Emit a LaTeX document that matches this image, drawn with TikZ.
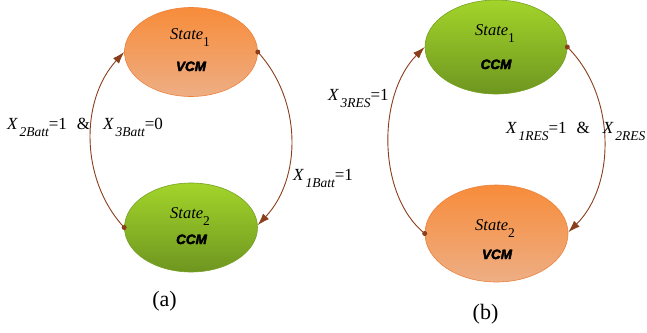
\documentclass[tikz,border=0pt]{standalone}
\usepackage{fontspec}
\setmainfont{Liberation Serif}
\newfontfamily\ccmfont[BoldItalicFeatures={FakeBold=3}]{Liberation Sans}
\usetikzlibrary{shapes.geometric,arrows.meta}
\definecolor{orT}{RGB}{247,140,58}
\definecolor{orL}{RGB}{238,174,132}
\definecolor{orB}{RGB}{236,130,62}
\definecolor{grT}{RGB}{163,212,42}
\definecolor{grL}{RGB}{110,150,32}
\definecolor{grB}{RGB}{118,160,36}
\definecolor{arr}{RGB}{138,62,28}
\newcommand\stname[1]{State\raisebox{-7pt}{\upshape\fontsize{13.5}{13.5}\selectfont #1}}
\newcommand\xvar[1]{\textit{X}\kern1.5pt\raisebox{-7pt}{\itshape\fontsize{13.5}{13.5}\selectfont #1}}
\tikzset{
  stnode/.style={ellipse, inner sep=0pt, line width=0.6pt},
  orst/.style={stnode, draw=orB, top color=orT, bottom color=orL},
  grst/.style={stnode, draw=grB, top color=grT, bottom color=grL},
  sttext/.style={anchor=base west, inner sep=0pt, font=\fontsize{16.5}{16.5}\selectfont\itshape},
  modetext/.style={anchor=base, inner sep=0pt, font=\ccmfont\bfseries\itshape\fontsize{13.5}{13.5}\selectfont},
  lbl/.style={anchor=base west, inner sep=0pt, font=\fontsize{17}{17}\selectfont},
  trans/.style={draw=arr, line width=0.9pt, -{Latex[length=12pt,width=8pt]}},
  startdot/.style={fill=arr, circle, inner sep=0pt, minimum size=5pt},
  captxt/.style={anchor=base, inner sep=0pt, font=\fontsize{22}{22}\selectfont}
}
\begin{document}
\begin{tikzpicture}[x=1pt,y=-1pt]
\useasboundingbox (0,0) rectangle (647,332);
\clip (0,0) rectangle (647,332);
% (a)
\node[orst, minimum width=133pt, minimum height=89pt] (L1) at (191,52) {};
\node[grst, minimum width=133pt, minimum height=89pt] (L2) at (191,227.5) {};
\node[sttext] (L1s) at (170,39) {\stname{1}};
\node[modetext] (L1m) at (191,71) {VCM};
\node[sttext] (L2s) at (170,218) {\stname{2}};
\node[modetext] (L2m) at (191.5,244) {CCM};
\draw[trans] (L2.west) .. controls (80,180) and (80,100) .. (L1.west);
\node[startdot] (d1) at (L2.west) {};
\draw[trans] (L1.east) .. controls (302,100) and (302,178) .. (L2.2);
\node[startdot] (d2) at (L1.east) {};
\node[lbl] (la1) at (7,129) {\xvar{2Batt}=1\hspace{10pt}\&\hspace{13pt}\xvar{3Batt}=0};
\node[lbl] (la2) at (293,180) {\xvar{1Batt}=1};
\node[captxt] (ca) at (164.5,306) {(a)};
% (b)
\node[grst, minimum width=142pt, minimum height=94pt] (R1) at (496,47) {};
\node[orst, minimum width=143pt, minimum height=97pt] (R2) at (496.5,233.5) {};
\node[sttext] (R1s) at (475,35) {\stname{1}};
\node[modetext] (R1m) at (496,69) {CCM};
\node[sttext] (R2s) at (475,230) {\stname{2}};
\node[modetext] (R2m) at (497,259) {VCM};
\draw[trans] (R2.west) .. controls (377,195) and (377,95) .. (R1.west);
\node[startdot] (d3) at (R2.west) {};
\draw[trans] (R1.east) .. controls (616,95) and (616,185) .. (R2.1);
\node[startdot] (d4) at (R1.east) {};
\node[lbl] (lb1) at (328,100) {\xvar{3RES}=1};
\node[lbl] (lb2) at (506,133) {\xvar{1RES}=1\hspace{10pt}\&\hspace{13pt}\xvar{2RES}};
\node[captxt] (cb) at (485.5,319) {(b)};
\end{tikzpicture}
\end{document}
